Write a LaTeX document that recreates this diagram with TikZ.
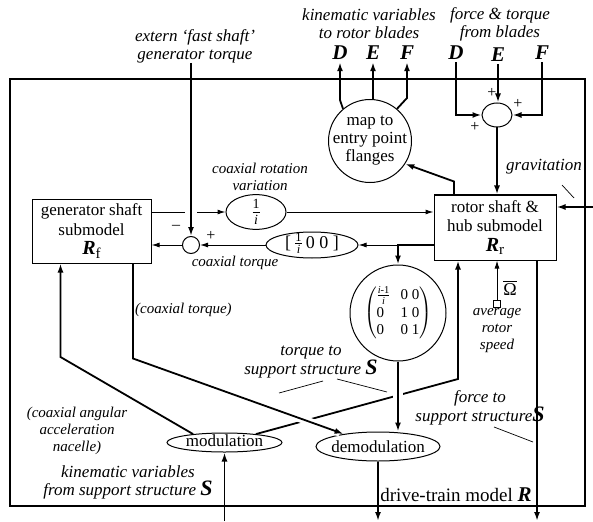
\documentclass[tikz,border=0pt]{standalone}
\usepackage{amsmath}
\usepackage{fontspec}
\setmainfont{Liberation Serif}
\usepackage{tikz}
\usetikzlibrary{arrows.meta,shapes.geometric}

\newcommand{\strS}{{\fontsize{22}{22}\selectfont\bfseries S}}
\newcommand{\subR}[1]{{\fontsize{20}{20}\selectfont\bfseries\itshape R}\raisebox{-0.4ex}{\fontsize{15}{15}\selectfont #1}}

\begin{document}
\begin{tikzpicture}[x=1pt,y=-1pt,
		blk/.style={draw, line width=1pt, inner sep=0, align=center, font=\fontsize{17}{19.5}\selectfont},
		rnd/.style={draw, ellipse, line width=1pt, inner sep=0, font=\fontsize{17}{17}\selectfont},
		sumc/.style={draw, line width=1pt, inner sep=0},
		sym/.style={anchor=base, inner sep=2pt, font=\fontsize{21}{21}\selectfont\bfseries\itshape},
		sgn/.style={inner sep=0, font=\fontsize{16}{16}\selectfont},
		lbl/.style={inner sep=0, align=center, font=\fontsize{17}{18}\selectfont\itshape},
		slbl/.style={inner sep=0, align=center, font=\fontsize{15}{17}\selectfont\itshape},
		sig/.style={line width=1.8pt, -{Latex[length=9pt,width=6pt]}},
		fine/.style={line width=1pt, -{Latex[length=8pt,width=5pt]}},
		lead/.style={line width=0.7pt},
		bridge/.style={preaction={draw=white, line width=#1, -, shorten <=4pt, shorten >=4pt}}]
	\useasboundingbox (0,0) rectangle (593,521);

	% submodels and operators
	\node[blk, minimum width=119, minimum height=64] (gen) at (91.5,231) {generator shaft\\submodel\\\subR{f}};
	\node[blk, minimum width=122, minimum height=65] (rot) at (495,227.5) {rotor shaft \&\\hub submodel\\\subR{r}};
	\node[blk, circle, minimum size=83, inner sep=-6pt, font=\fontsize{17}{18}\selectfont] (map) at (370,141) {map to\\entry point\\flanges};
	\node[rnd, minimum width=60, minimum height=30, font=\fontsize{20}{20}\selectfont] (inv) at (256,212) {$\frac{\text{1}}{\text{\itshape i}}$};
	\node[rnd, minimum width=92, minimum height=26, text height=9pt, text depth=3pt, font=\fontsize{18}{18}\selectfont] (row) at (312,245) {[\,$\frac{\text{1}}{\text{\itshape i}}$\,0 0 ]};
	\node[draw, circle, line width=1pt, minimum size=96, inner sep=0, font=\fontsize{15}{17}\selectfont] (mat) at (398,313)
		{$\left(\begin{tabular}{@{}l@{\hspace{10pt}}l@{}}$\frac{\text{\itshape i\upshape -1}}{\text{\itshape i}}$ & 0 0\\[1pt]0 & 1 0\\0 & 0 1\end{tabular}\right)$};
	\node[sumc, ellipse, minimum width=30, minimum height=24] (sumR) at (497,115) {};
	\node[sumc, circle, minimum size=17] (sumL) at (191,245) {};
	\node[rnd, minimum width=115, minimum height=19, text height=9pt, text depth=2pt] (mod) at (224.5,442.5) {modulation};
	\node[rnd, minimum width=124, minimum height=29, inner xsep=-4pt] (demod) at (378,446.5) {demodulation};
	\node[draw, line width=0.8pt, minimum size=7, inner sep=0] (avg) at (497,303.5) {};

	% ports
	\node[sym] (D1) at (340,60) {D};
	\node[sym] (E1) at (373,60) {E};
	\node[sym] (F1) at (407,60) {F};
	\node[sym] (D2) at (456,60) {D};
	\node[sym] (E2) at (498,62) {E};
	\node[sym] (F2) at (542,60) {F};
	\node[lbl] (extlbl) at (195,46) {extern `fast shaft'\\generator torque};
	\coordinate (grav) at (593,207);
	\coordinate (kinin) at (224.5,521);
	\coordinate (trqout) at (378,521);
	\coordinate (frcout) at (537,521);

	% blade side
	\draw[sig] (map.130) -- (D1.south |- 0,100) -- (D1.south);
	\draw[sig] (E1.south |- map.north) -- (E1.south);
	\draw[sig] (map.50) -- (F1.south |- 0,98) -- (F1.south);
	\draw[sig] (D2.south) |- (sumR.west);
	\draw[sig] (E2.south) -- (E2.south |- sumR.north);
	\draw[sig] (F2.south) |- (sumR.east);
	\draw[sig] (sumR.south) -- (sumR.south |- rot.north);
	\draw[sig] ([xshift=-41]rot.north) -- ++(0,-13) -- (map.-33);
	\draw[sig] (grav) -- (grav -| rot.east);

	% coaxial path
	\draw[fine] (inv.west -| gen.east) -- (inv.west);
	\draw[fine] (inv.east) -- (inv.east -| rot.west);
	\draw[sig] (row.east -| rot.west) -| (mat.north);
	\draw[fine] (mat.north |- row.east) -- (row.east);
	\draw[fine] (row.west) -- (sumL.east);
	\draw[fine] (sumL.west) -- (sumL.west -| gen.east);
	\draw[sig, bridge=12pt] (extlbl.south -| sumL.north) -- (sumL.north);
	\draw[fine] (avg.north) -- (avg.north |- rot.south);

	% support structure
	\draw[sig] (mod.15) -- ([xshift=-37]rot.south |- 0,379) -- ([xshift=-37]rot.south);
	\draw[sig] (mod.165) -- ([xshift=-31]gen.south |- 0,357) -- ([xshift=-31]gen.south);
	\draw[sig, bridge=8pt] ([xshift=41.5]gen.south) -- ++(0,95) -- (demod.160);
	\draw[sig, bridge=10pt] (mat.south) -- (mat.south |- demod.north);
	\draw[sig] (kinin) -- (kinin |- mod.south);
	\draw[sig] (demod.south) -- (demod.south |- trqout);
	\draw[sig] ([xshift=42]rot.south) -- ([xshift=42]rot.south |- frcout);

	% signs and labels
	\node[sgn] (p1) at (492,93) {+};
	\node[sgn] (p2) at (518,104) {+};
	\node[sgn] (p3) at (475,127) {+};
	\node[sgn] (m1) at (176,227) {--};
	\node[sgn] (p4) at (211,236) {+};
	\node[lbl] (kinlbl) at (369,24) {kinematic variables\\to rotor blades};
	\node[lbl] (frclbl) at (500,24) {force \& torque\\from blades};
	\node[lbl] (gravlbl) at (544,167) {gravitation};
	\node[slbl] (rotlbl) at (260,177) {coaxial rotation\\variation};
	\node[slbl] (ctlbl) at (235,263) {coaxial torque};
	\node[slbl, anchor=west] (ct2lbl) at (135,310) {(coaxial torque)};
	\node[font=\fontsize{18}{18}\selectfont] (omg) at (510,288) {$\overline{\text{Ω}}$};
	\node[slbl] (avglbl) at (497,331) {average\\rotor\\speed};
	\node[slbl] (acclbl) at (77,431) {(coaxial angular\\acceleration\\nacelle)};
	\node[lbl] (kinslbl) at (128,482) {kinematic variables\\from support structure \strS};
	\node[lbl] (trqlbl) at (311,362) {torque to\\support structure \strS};
	\node[lbl] (frclbl2) at (480,408) {force to\\support structure\strS};
	\node[anchor=base, inner sep=0, font=\fontsize{19}{19}\selectfont] (dtlbl) at (456,501) {drive-train model {\fontsize{21}{21}\selectfont\bfseries\itshape R}};
	\draw[lead] (562,185) -- (574,198);
	\draw[lead] (279,393) -- (323,381);
	\draw[lead] (337,379) -- (387,392);
	\draw[lead] (494,427) -- (533,442);

	% drive-train frame
	\draw[line width=1.6pt] (10,79) rectangle (585,506);
\end{tikzpicture}
\end{document}
